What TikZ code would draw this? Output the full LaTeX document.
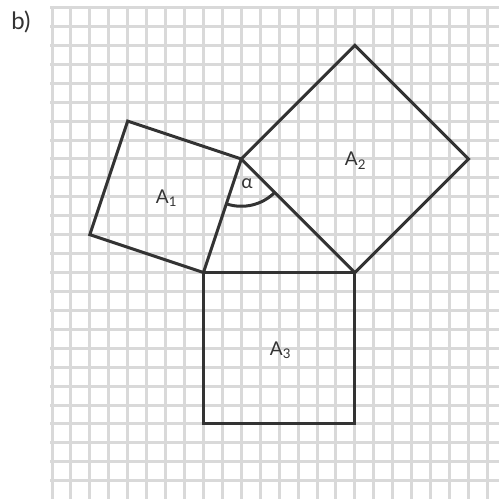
\documentclass[tikz,border=0pt]{standalone}
\usepackage{fontspec}
\setmainfont{Lato}
\usetikzlibrary{calc}
\definecolor{gridgray}{HTML}{D9D9D9}
\definecolor{ink}{HTML}{333333}
\tikzset{
  gridline/.style={draw=gridgray, line width=3pt},
  shapeline/.style={draw=ink, line width=3pt, line join=miter},
  arealabel/.style={text=ink, font=\fontsize{19}{22}\selectfont, anchor=base, inner sep=0pt},
}
\begin{document}
\begin{tikzpicture}[x=18.93pt, y=-18.93pt]
\useasboundingbox (-2.747,-0.396) rectangle (23.613,26.017);
% grid
\foreach \i in {0,...,23} \draw[gridline] (\i,-0.08) -- (\i,25.95);
\foreach \j in {0,...,25} \draw[gridline] (-0.08,\j) -- (23.6,\j);
% triangle vertices
\coordinate (A) at (10,8);
\coordinate (B) at (8,14);
\coordinate (C) at (16,14);
\coordinate (P1) at (2,12);
\coordinate (P2) at (4,6);
\coordinate (Q1) at (16,2);
\coordinate (Q2) at (22,8);
\coordinate (R1) at (16,22);
\coordinate (R2) at (8,22);
% squares
\draw[shapeline] (A) -- (B) -- (P1) -- (P2) -- cycle;
\draw[shapeline] (A) -- (Q1) -- (Q2) -- (C) -- cycle;
\draw[shapeline] (B) -- (C) -- (R1) -- (R2) -- cycle;
% angle arc
\draw[draw=ink, line width=3pt] ($(A)+(108.43:2.5)$) arc[start angle=108.43, end angle=45, radius=2.5];
% labels
\node[arealabel] (alpha) at (10.3,9.55) {α};
\node[arealabel] (a1) at (6.05,10.33) {A\textsubscript{1}};
\node[arealabel] (a2) at (16.03,8.37) {A\textsubscript{2}};
\node[arealabel] (a3) at (12.07,18.36) {A\textsubscript{3}};
\node[text=ink, font=\fontsize{24}{28}\selectfont, anchor=base, inner sep=0pt] (b) at (-1.64,1.14) {b)};
\end{tikzpicture}
\end{document}
